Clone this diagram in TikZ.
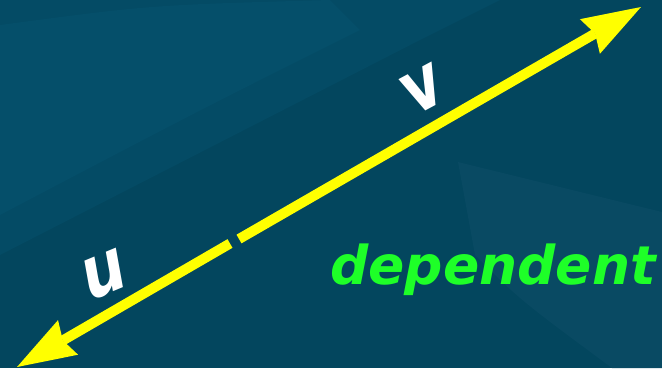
\documentclass[tikz,border=0pt]{standalone}
\usepackage{fontspec}
\setmainfont{DejaVu Sans}
\usetikzlibrary{arrows.meta}
\definecolor{bgbase}{HTML}{03465E}
\definecolor{bglight}{HTML}{054F6A}
\definecolor{bgmid}{HTML}{044B65}
\definecolor{bgwedge}{HTML}{094A63}
\definecolor{vecyellow}{HTML}{FFFF00}
\definecolor{depgreen}{HTML}{1EFF28}
\tikzset{
  vec/.style={draw=vecyellow, line width=10pt,
    -{Stealth[length=59pt,width=40pt,inset=6pt,line width=0pt]}},
  lbl/.style={text=white, inner sep=0pt,
    font=\fontsize{64}{64}\selectfont\bfseries},
  dep/.style={text=depgreen, inner sep=0pt, font=\fontsize{53.5}{53.5}\selectfont\bfseries\itshape}
}
\begin{document}
\begin{tikzpicture}[x=1pt,y=-1pt]
\fill[bgbase] (0,0) rectangle (662,368);
\useasboundingbox (0,0) rectangle (662,368);
% soft background patches
\fill[bgmid] (0,0) -- (500,0) -- (420,40) -- (0,255) -- cycle;
\fill[bglight] (0,25) .. controls (150,5) .. (330,0) -- (360,30) .. controls (200,110) .. (0,215) -- cycle;
\fill[bgwedge] (458,162) -- (662,212) -- (662,368) -- (612,368) .. controls (520,300) .. (475,255) -- cycle;
% vectors
\coordinate (g1) at (230,243.5);
\coordinate (t1) at (17,367);
\coordinate (g2) at (239,239);
\coordinate (t2) at (641,7);
\draw[vec] (g1) -- (t1);
\draw[vec] (g2) -- (t2);
% labels
\node[lbl, rotate=22.6, xslant=0.22, xscale=0.967, yscale=1.12] (u) at (104.5,275) {u};
\node[lbl, rotate=28.2, xslant=0.102, xscale=0.944, yscale=1.15] (v) at (423.2,89.9) {v};
\node[dep, anchor=base west] (dep) at (330,284) {dependent};
\end{tikzpicture}
\end{document}
